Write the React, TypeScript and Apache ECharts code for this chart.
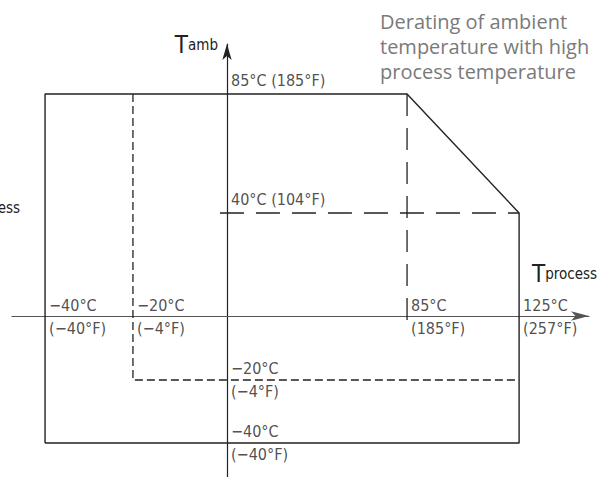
import React, { useEffect, useRef } from "react";
import * as echarts from "echarts";

// ---- data (temperatures in °C, Fahrenheit equivalents) ----
const processTicksC = [-40, -20, 85, 125];
const processTicksF = [-40, -4, 185, 257];
const ambientTicksC = [85, 40, -20, -40];
const ambientTicksF = [185, 104, -4, -40];

// operating envelope [Tprocess, Tamb]
const envelope: [number, number][] = [
  [-40, -40], [-40, 85], [85, 85], [125, 40], [125, -40], [-40, -40],
];
// reduced range limit (−20 °C)
const reducedRange: [number, number][] = [[-20, 85], [-20, -20], [125, -20]];
// 40 °C ambient reference
const ambient40: [number, number][] = [[-1.5, 40], [125, 40]];
// 85 °C process reference
const process85: [number, number][] = [[85, 85], [85, -3.5]];

const titleLines = ["Derating of ambient", "temperature with high", "process temperature"];

// ---- schematic (non-linear) axis layout ----
const xStopsC = [-40, -20, 0, 85, 125];
const xStopsU = [-85.9, -44.4, 0, 85, 137.9];
const yStopsC = [-40, -20, 0, 40, 85];
const yStopsU = [-49.3, -24.85, 0, 40, 86.2];

function interp(v: number, from: number[], to: number[]) {
  let i = 0;
  while (i < from.length - 2 && v > from[i + 1]) i++;
  const t = (v - from[i]) / (from[i + 1] - from[i]);
  return to[i] + t * (to[i + 1] - to[i]);
}
const wx = (v: number) => interp(v, xStopsC, xStopsU);
const wy = (v: number) => interp(v, yStopsC, yStopsU);
const warp = (pts: [number, number][]) => pts.map(([x, y]) => [wx(x), wy(y)]);

const neg = (n: number) => (n < 0 ? "\u2212" + Math.abs(n) : String(n));
const FONT = "'Liberation Sans Narrow', 'DejaVu Sans Condensed', sans-serif";
const INK = "#222";
const LBL = 16;

export default function App() {
  const ref = useRef<HTMLDivElement>(null);
  useEffect(() => {
    if (!ref.current) return;
    const chart = echarts.init(ref.current, undefined, { renderer: "svg" });
    const lineBase = { type: "line", symbol: "none", silent: true, z: 3 };
    const richT = {
      t: { fontFamily: FONT, fontSize: 24, fill: INK, color: INK },
      s: { fontFamily: FONT, fontSize: 15, fill: INK, color: INK },
    };
    chart.setOption({
      animation: false,
      backgroundColor: "#fff",
      grid: { left: 12, right: 20, top: 44, bottom: 0, containLabel: false },
      xAxis: {
        type: "value", min: -101.5, max: 170.9,
        axisLine: { onZero: true, lineStyle: { color: "#555", width: 1.2 }, symbol: ["none", "arrow"], symbolSize: [7, 18] },
        axisTick: { show: false }, axisLabel: { show: false }, splitLine: { show: false },
      },
      yAxis: {
        type: "value", min: -62.5, max: 105.6,
        axisLine: { onZero: true, lineStyle: { color: INK, width: 1.2 }, symbol: ["none", "arrow"], symbolSize: [7, 16] },
        axisTick: { show: false }, axisLabel: { show: false }, splitLine: { show: false },
      },
      series: [
        { ...lineBase, data: warp(envelope), lineStyle: { color: INK, width: 1.4 } },
        { ...lineBase, data: warp(reducedRange), lineStyle: { color: INK, width: 1.3, type: [8, 4] } },
        { ...lineBase, data: warp(ambient40), lineStyle: { color: INK, width: 1.3, type: [24, 12] } },
        { ...lineBase, data: warp(process85), lineStyle: { color: INK, width: 1.3, type: [22, 12] } },
        {
          type: "scatter", symbolSize: 0, silent: true, z: 5,
          data: processTicksC.map((c, i) => ({ value: [wx(c), 0], f: processTicksF[i], c })),
          label: {
            show: true, position: [4, 1], align: "left", verticalAlign: "middle",
            color: INK, fontFamily: FONT, fontSize: LBL, lineHeight: 23,
            formatter: (p: any) => `${neg(p.data.c)}°C\n(${neg(p.data.f)}°F)`,
          },
        },
        {
          type: "scatter", symbolSize: 0, silent: true, z: 5,
          data: ambientTicksC.slice(0, 2).map((c, i) => ({ value: [0, wy(c)], f: ambientTicksF[i], c })),
          label: {
            show: true, position: [4, -3], align: "left", verticalAlign: "bottom",
            color: INK, fontFamily: FONT, fontSize: LBL, lineHeight: 20,
            formatter: (p: any) => `${neg(p.data.c)}°C (${neg(p.data.f)}°F)`,
          },
        },
        {
          type: "scatter", symbolSize: 0, silent: true, z: 5,
          data: ambientTicksC.slice(2).map((c, i) => ({ value: [0, wy(c)], f: ambientTicksF[i + 2], c })),
          label: {
            show: true, position: [4, 0], align: "left", verticalAlign: "middle",
            color: INK, fontFamily: FONT, fontSize: LBL, lineHeight: 23,
            formatter: (p: any) => `${neg(p.data.c)}°C\n(${neg(p.data.f)}°F)`,
          },
        },
      ],
      graphic: [
        {
          type: "text", left: 380, top: 9,
          style: { text: titleLines.join("\n"), fill: "#7a7a7a", font: "20px 'Open Sans', 'Liberation Sans', sans-serif", lineHeight: 25 },
        },
        {
          type: "text", x: 218, y: 57,
          style: { text: "{t|T}{s|amb}", align: "right", verticalAlign: "bottom", rich: richT },
        },
        {
          type: "text", x: 532, y: 286,
          style: { text: "{t|T}{s|process}", align: "left", verticalAlign: "bottom", rich: richT },
        },
        {
          type: "text", x: 20, y: 220,
          style: { text: "{t|T}{s|process}", align: "right", verticalAlign: "bottom", rich: richT },
        },
      ],
    });
    return () => chart.dispose();
  }, []);
  return <div ref={ref} style={{ width: 609, height: 477, position: "fixed", left: 0, top: 0 }} />;
}
